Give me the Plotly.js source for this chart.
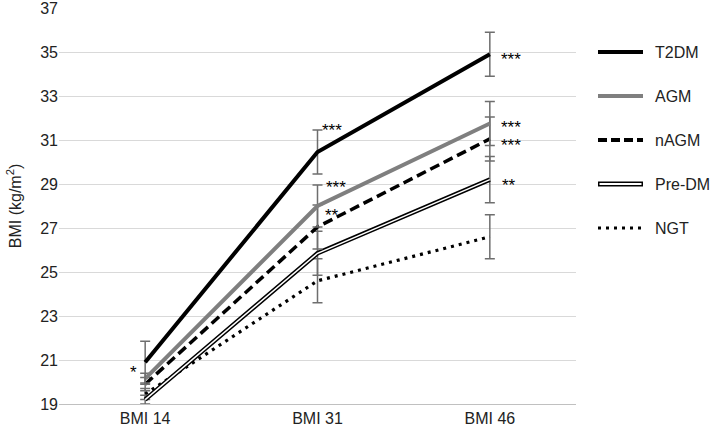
<!DOCTYPE html>
<html>
<head>
<meta charset="utf-8">
<script src="https://cdn.plot.ly/plotly-3.0.1.min.js"></script>
<style>
html,body{margin:0;padding:0;background:#fff;}
#chart{width:711px;height:428px;}
</style>
</head>
<body>
<div id="chart"></div>
<script>
// ---- data ----
const categories = ['BMI 14', 'BMI 31', 'BMI 46'];
const seriesNames = ['T2DM', 'AGM', 'nAGM', 'Pre-DM', 'NGT'];
const t2dm = [20.9, 30.45, 34.9];
const t2dmErr = [0.95, 1.0, 1.0];
const agm = [20.15, 28.0, 31.75];
const agmErr = [0.25, 0.95, 1.0];
const nagm = [19.9, 27.05, 31.05];
const nagmErr = [0.3, 1.0, 1.0];
const predm = [19.2, 25.85, 29.2];
const predmErr = [0.2, 1.0, 1.05];
const ngt = [19.45, 24.6, 26.6];
const ngtErr = [0.25, 1.0, 1.0];
const yTicks = [19, 21, 23, 25, 27, 29, 31, 33, 35, 37];
// significance marks per series and category
const sigT2dm = ['*', '***', '***'];
const sigAgm = ['', '***', '***'];
const sigNagm = ['', '**', '***'];
const sigPredm = ['', '', '**'];

// ---- styles ----
const FONT = 'Liberation Sans, Arial, sans-serif';
const errColor = '#6e6e6e';
function err(arr) {
  return {type: 'data', array: arr, visible: true, color: errColor, thickness: 1.5, width: 5};
}
const traces = [
  {x: categories, y: ngt, name: 'NGT', mode: 'lines', line: {color: '#000', width: 3.2, dash: '3px,5px'}, error_y: err(ngtErr)},
  {x: categories, y: predm, name: 'Pre-DM', mode: 'lines', line: {color: '#000', width: 4.5}, error_y: err(predmErr)},
  {x: categories, y: predm, name: 'Pre-DM inner', mode: 'lines', line: {color: '#fff', width: 1.5}, hoverinfo: 'skip'},
  {x: categories, y: nagm, name: 'nAGM', mode: 'lines', line: {color: '#000', width: 3.5, dash: '10px,5px'}, error_y: err(nagmErr)},
  {x: categories, y: agm, name: 'AGM', mode: 'lines', line: {color: '#7f7f7f', width: 4}, error_y: err(agmErr)},
  {x: categories, y: t2dm, name: 'T2DM', mode: 'lines', line: {color: '#000', width: 4}, error_y: err(t2dmErr)}
];

// annotations for significance
const annotations = [];
function addSig(vals, labels, shifts) {
  labels.forEach((lab, i) => {
    if (!lab) return;
    annotations.push({
      x: categories[i], y: vals[i], xref: 'x', yref: 'y', text: lab, showarrow: false,
      xshift: shifts[i][0], yshift: shifts[i][1],
      font: {family: FONT, size: 17, color: '#000'}
    });
  });
}
addSig(t2dm, sigT2dm, [[-12, -10], [14, 22], [21, -5]]);
addSig(agm, sigAgm, [[0, 0], [18, 19], [21, -4]]);
addSig(nagm, sigNagm, [[0, 0], [14, 11], [21, -7]]);
addSig(predm, sigPredm, [[0, 0], [0, 0], [19, -6]]);

// manual legend
const legendStyles = [
  {name: 'T2DM', color: '#000', width: 4, dash: 'solid'},
  {name: 'AGM', color: '#7f7f7f', width: 4, dash: 'solid'},
  {name: 'nAGM', color: '#000', width: 4, dash: '9px,4px'},
  {name: 'Pre-DM', color: '#000', width: 5, dash: 'solid', inner: true},
  {name: 'NGT', color: '#000', width: 3, dash: '3px,5px'}
];
const plotL = 59, plotR = 576, plotT = 8, plotB = 404;
const pw = plotR - plotL, ph = plotB - plotT;
const px = v => (v - plotL) / pw;
const py = v => (plotB - v) / ph;
const shapes = [];
legendStyles.forEach((s, i) => {
  const yy = 52 + i * 44;
  shapes.push({type: 'line', xref: 'paper', yref: 'paper', x0: px(598), x1: px(643), y0: py(yy), y1: py(yy),
    line: {color: s.color, width: s.width, dash: s.dash}});
  if (s.inner) {
    shapes.push({type: 'line', xref: 'paper', yref: 'paper', x0: px(599.5), x1: px(641.5), y0: py(yy), y1: py(yy),
      line: {color: '#fff', width: 2}});
  }
  annotations.push({xref: 'paper', yref: 'paper', x: px(653), y: py(yy), xanchor: 'left', yanchor: 'middle',
    text: s.name, showarrow: false, font: {family: FONT, size: 16, color: '#222'}});
});

const layout = {
  width: 711, height: 428,
  margin: {l: plotL, r: 711 - plotR, t: plotT, b: 428 - plotB, pad: 0},
  paper_bgcolor: '#fff', plot_bgcolor: '#fff',
  showlegend: false,
  font: {family: FONT, size: 16, color: '#222'},
  xaxis: {type: 'category', range: [-0.5, 2.5], showgrid: false, zeroline: false,
    showline: true, linecolor: '#c0c0c0', linewidth: 1, ticks: '', tickfont: {size: 16, color: '#222'}},
  yaxis: {range: [19, 37], tickvals: yTicks, showgrid: true, gridcolor: '#d9d9d9', gridwidth: 1,
    zeroline: false, showline: false, ticks: '', ticklabeloverflow: 'allow', tickfont: {size: 16, color: '#222'},
    title: {text: 'BMI (kg/m<sup>2</sup>)', font: {size: 16, color: '#222'}, standoff: 14}},
  shapes: shapes,
  annotations: annotations
};

Plotly.newPlot('chart', traces, layout, {displayModeBar: false, staticPlot: true});
</script>
</body>
</html>
